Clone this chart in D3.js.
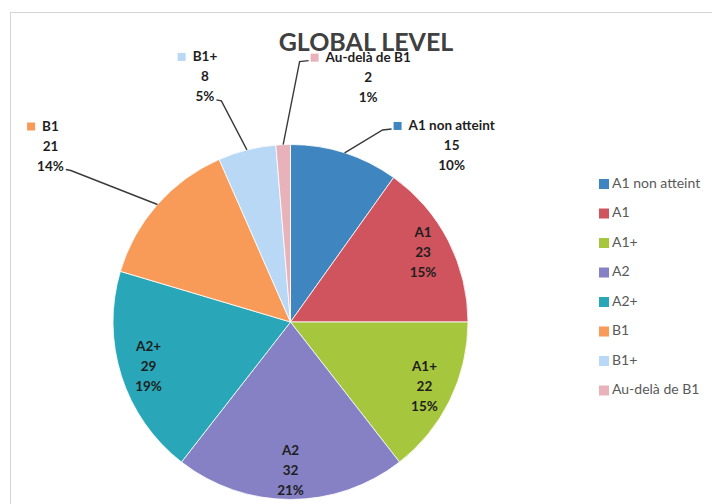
<!DOCTYPE html>
<html>
<head>
<meta charset="utf-8">
<script src="https://cdn.jsdelivr.net/npm/d3@7"></script>
<style>
  body { margin: 0; background: #fff; }
  text { font-family: Lato, "Liberation Sans", sans-serif; }
</style>
</head>
<body>
<div id="chart"></div>
<script>
// data
const categories = ["A1 non atteint", "A1", "A1+", "A2", "A2+", "B1", "B1+", "Au-delà de B1"];
const counts = [15, 23, 22, 32, 29, 21, 8, 2];
const percents = [10, 15, 15, 21, 19, 14, 5, 1];
const colors = ["#3f86c1", "#cf545e", "#a6c63e", "#8581c4", "#29a7b8", "#f89a58", "#b9d8f5", "#e8b2ba"];
const outside = ["A1 non atteint", "B1", "B1+", "Au-delà de B1"];

// where each outside label sits, relative to the slice's edge point
const labelOffset = {
    "A1 non atteint": [107, -26],
    "Au-delà de B1": [85, -86],
    "B1+": [-42, -92],
    "B1": [-107, -77]
};

const width = 712, height = 504;
const cx = 290.5, cy = 322, R = 177.5;

const svg = d3.select("#chart").append("svg")
    .attr("width", width)
    .attr("height", height);

// chart area border
svg.append("rect")
    .attr("x", 10.5).attr("y", 12.5)
    .attr("width", 760).attr("height", 560)
    .attr("fill", "none")
    .attr("stroke", "#d4d4d4");

const data = categories.map((c, i) => ({ name: c, value: counts[i], pct: percents[i], color: colors[i] }));

const pie = d3.pie().sort(null).value(d => d.value);
const arcs = pie(data);
const arc = d3.arc().innerRadius(0).outerRadius(R);
const edgeArc = d3.arc().innerRadius(R).outerRadius(R);
const innerLabelArc = d3.arc().innerRadius(R * 0.84).outerRadius(R * 0.84);

const g = svg.append("g").attr("transform", "translate(" + cx + "," + cy + ")");

g.selectAll("path.slice")
    .data(arcs)
    .enter()
    .append("path")
    .attr("class", "slice")
    .attr("d", arc)
    .attr("fill", d => d.data.color)
    .attr("stroke", "#fff")
    .attr("stroke-width", 0.8);

// title (drawn before labels; labels overlap it a bit like the original)
svg.append("text")
    .attr("x", 366).attr("y", 45)
    .attr("text-anchor", "middle")
    .attr("dominant-baseline", "middle")
    .attr("font-size", 25)
    .attr("font-weight", "bold")
    .attr("fill", "#404040")
    .text("GLOBAL LEVEL");

const lineGap = 20;
const labelFont = 13.5;

// inside labels
arcs.filter(d => outside.indexOf(d.data.name) < 0).forEach(d => {
    let c = innerLabelArc.centroid(d);
    let lines = [d.data.name, d.data.value, d.data.pct + "%"];
    lines.forEach((t, i) => {
        g.append("text")
            .attr("x", c[0])
            .attr("y", c[1] + (i - 1) * lineGap)
            .attr("text-anchor", "middle")
            .attr("dominant-baseline", "middle")
            .attr("font-size", labelFont)
            .attr("font-weight", "bold")
            .attr("fill", "#1e1e1e")
            .text(t);
    });
});

// outside labels with legend key and leader line
arcs.filter(d => outside.indexOf(d.data.name) >= 0).forEach(d => {
    let e = edgeArc.centroid(d);
    let off = labelOffset[d.data.name];
    let lx = e[0] + off[0], ly = e[1] + off[1];
    let lines = [d.data.name, d.data.value, d.data.pct + "%"];
    let nodes = lines.map((t, i) => g.append("text")
        .attr("x", lx)
        .attr("y", ly + i * lineGap)
        .attr("text-anchor", "middle")
        .attr("dominant-baseline", "middle")
        .attr("font-size", labelFont)
        .attr("font-weight", "bold")
        .attr("fill", "#1e1e1e")
        .text(t));
    let nameW = nodes[0].node().getComputedTextLength();
    let mLeft = lx - nameW / 2 - 7 - 8;
    g.append("rect")
        .attr("x", mLeft).attr("y", ly - 5)
        .attr("width", 8).attr("height", 8)
        .attr("fill", d.data.color);

    let pts;
    if (off[0] > 0) {
        pts = [[mLeft - 2, ly + 2], [mLeft - 11, ly + 3], e];
    } else {
        let pW = nodes[2].node().getComputedTextLength();
        let px = lx + pW / 2 + 2, py = ly + 2 * lineGap + 2;
        pts = [[px, py], [px + 5, py + 1], e];
    }
    g.append("path")
        .attr("d", d3.line()(pts))
        .attr("fill", "none")
        .attr("stroke", "#3a3a3a")
        .attr("stroke-width", 1.4);
});

// legend
const legend = svg.append("g").attr("transform", "translate(599,184)");
const item = legend.selectAll("g")
    .data(data)
    .enter()
    .append("g")
    .attr("transform", (d, i) => "translate(0," + (i * 29.5) + ")");
item.append("rect")
    .attr("x", 0).attr("y", -5)
    .attr("width", 10).attr("height", 10)
    .attr("fill", d => d.color);
item.append("text")
    .attr("x", 13).attr("y", 0)
    .attr("dominant-baseline", "middle")
    .attr("font-size", 14)
    .attr("fill", "#595959")
    .text(d => d.name);
</script>
</body>
</html>
